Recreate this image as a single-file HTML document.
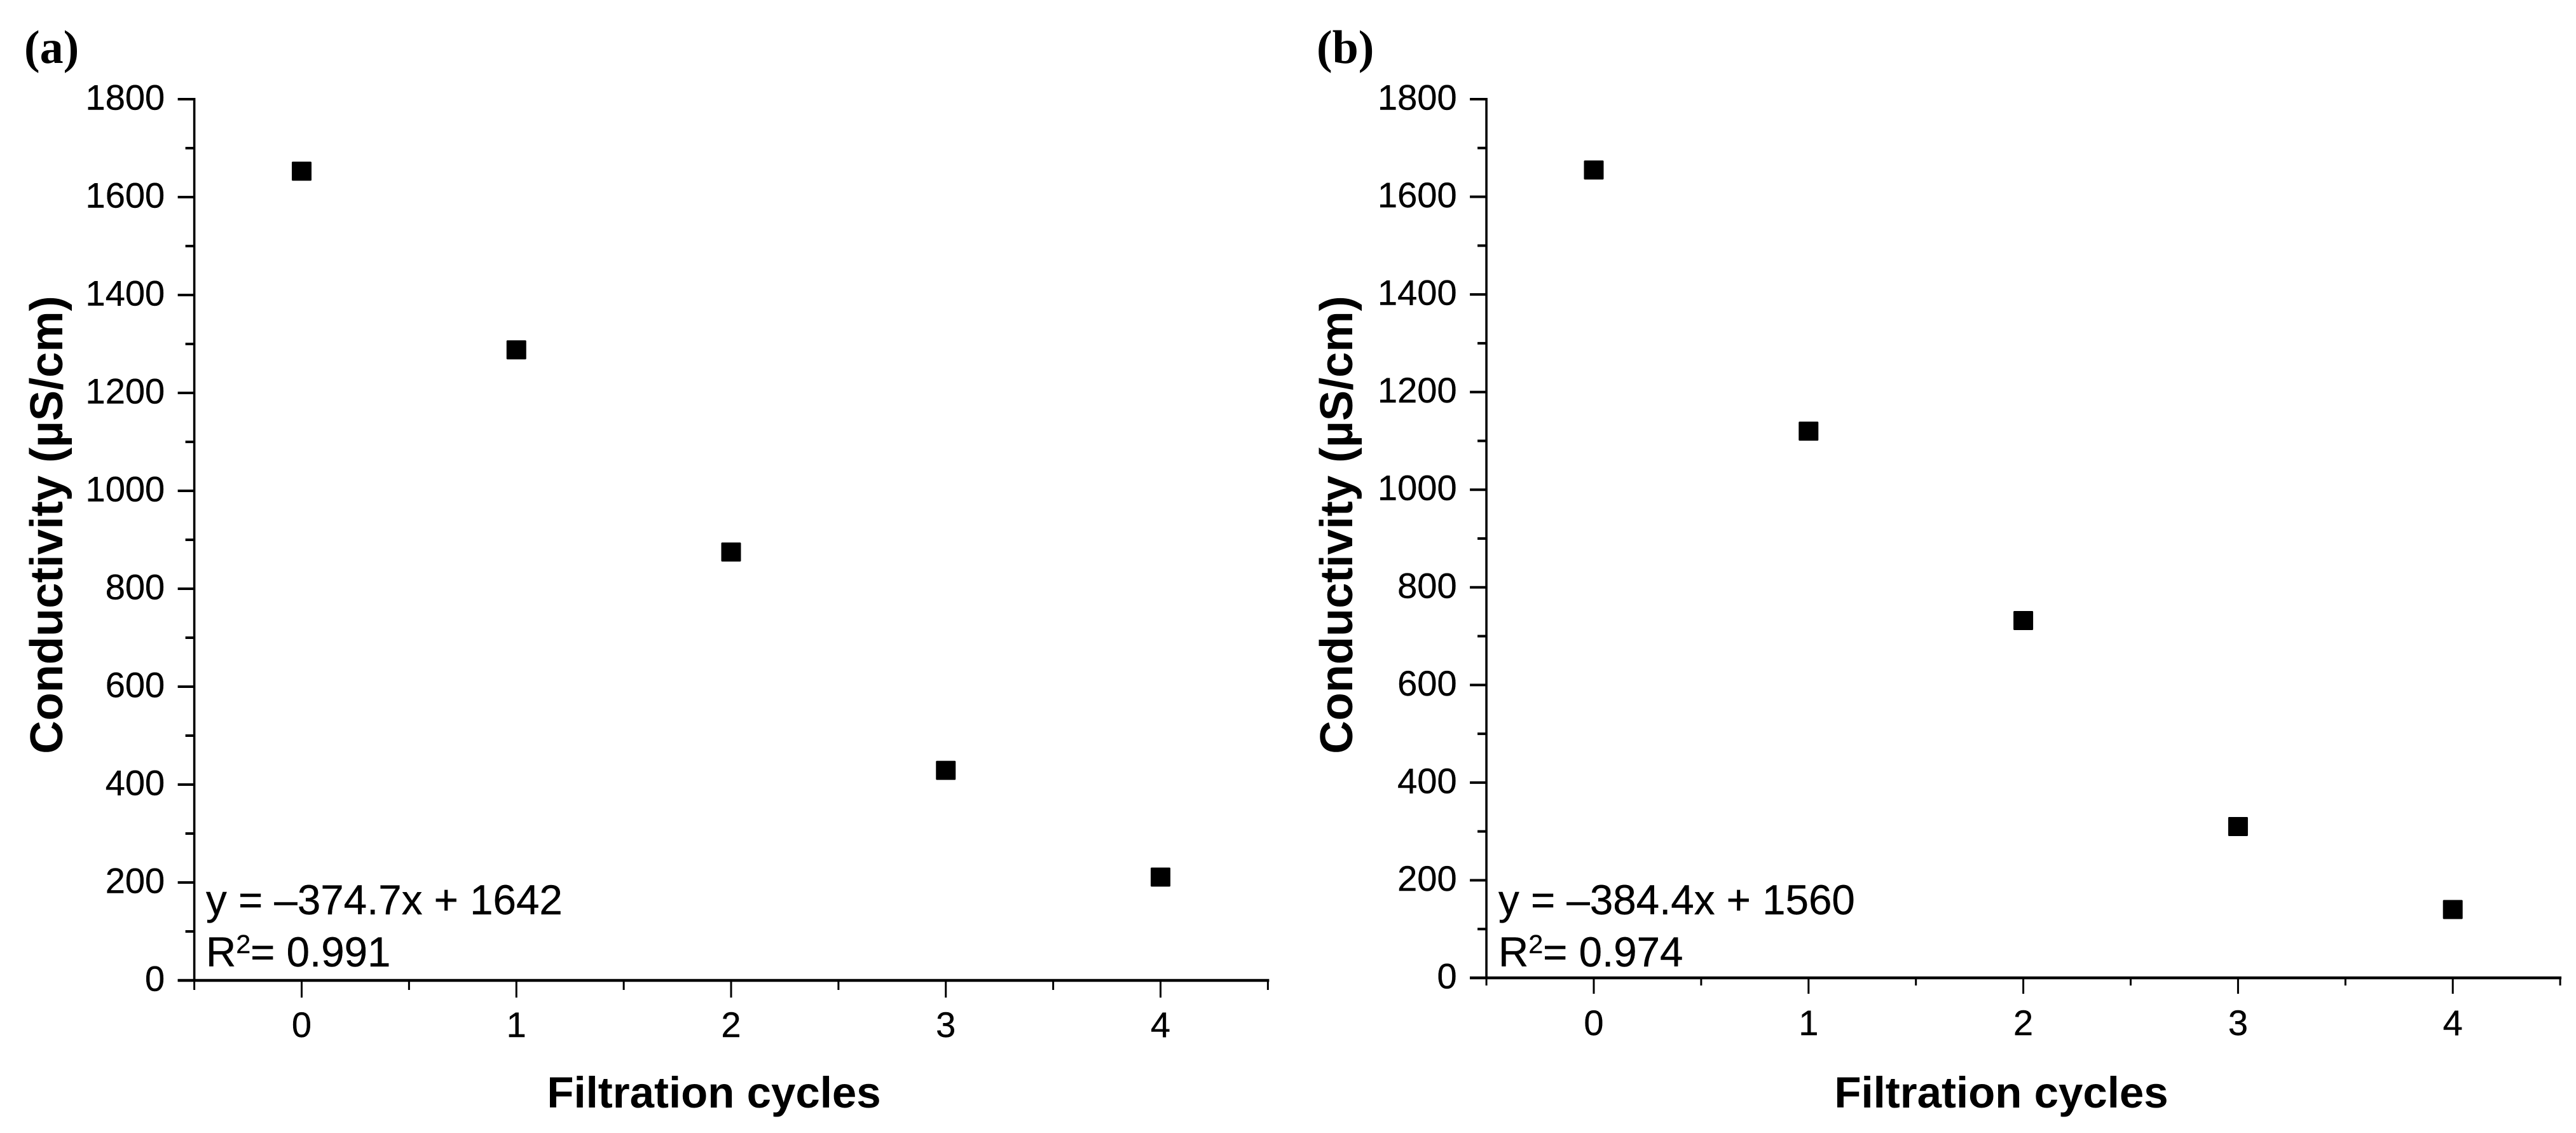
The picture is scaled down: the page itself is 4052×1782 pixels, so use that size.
<!DOCTYPE html>
<html lang="en">
<head>
<meta charset="utf-8">
<title>Conductivity vs filtration cycles</title>
<style>
  html, body { margin: 0; padding: 0; background: #fff; }
  svg { display: block; }
  text { fill: #000; font-family: "Liberation Sans", Arial, sans-serif; }
  .tick { font-size: 56px; stroke: #000; stroke-width: 0.4px; }
  .title { font-weight: bold; }
  .eq { font-size: 65.5px; stroke: #000; stroke-width: 0.4px; }
  .panel-label { font-family: "Liberation Serif", "Times New Roman", serif; font-weight: bold; font-size: 74px; }
</style>
</head>
<body>
<svg id="figure" xmlns="http://www.w3.org/2000/svg" width="4052" height="1782" viewBox="0 0 4052 1782">
  <rect x="0" y="0" width="4052" height="1782" fill="#ffffff"/>

  <g id="panel-a">
    <text class="panel-label" x="38" y="99">(a)</text>
    <text class="title" font-size="72.3" text-anchor="middle" transform="translate(98 825.5) rotate(-90)">Conductivity (µS/cm)</text>
    <text class="title" font-size="69" text-anchor="middle" x="1123" y="1742">Filtration cycles</text>
    <text class="eq" x="324" y="1438">y = –374.7x + 1642</text>
    <text class="eq" x="324" y="1520">R<tspan font-size="41" dy="-21">2</tspan><tspan dy="21">= 0.991</tspan></text>
  </g>

  <g id="panel-b">
    <text class="panel-label" x="2071" y="99">(b)</text>
    <text class="title" font-size="72.3" text-anchor="middle" transform="translate(2127 825.5) rotate(-90)">Conductivity (µS/cm)</text>
    <text class="title" font-size="69" text-anchor="middle" x="3148" y="1742">Filtration cycles</text>
    <text class="eq" x="2357" y="1438">y = –384.4x + 1560</text>
    <text class="eq" x="2357" y="1520">R<tspan font-size="41" dy="-21">2</tspan><tspan dy="21">= 0.974</tspan></text>
  </g>
</svg>

<script>
const cycles = [0, 1, 2, 3, 4];
const conductivityA = [1653, 1288, 875, 429, 211];
const conductivityB = [1655, 1120, 732, 310, 140];
const yTickValues = [0, 200, 400, 600, 800, 1000, 1200, 1400, 1600, 1800];
const yTickLabels = ["0", "200", "400", "600", "800", "1000", "1200", "1400", "1600", "1800"];
const yMinorValues = [100, 300, 500, 700, 900, 1100, 1300, 1500, 1700];
const xTickValues = [0, 1, 2, 3, 4];
const xTickLabels = ["0", "1", "2", "3", "4"];
const xMinorValues = [-0.5, 0.5, 1.5, 2.5, 3.5, 4.5];

const NS = "http://www.w3.org/2000/svg";

function makeLine(parent, x1, y1, x2, y2, width) {
  const l = document.createElementNS(NS, "line");
  l.setAttribute("x1", x1);
  l.setAttribute("y1", y1);
  l.setAttribute("x2", x2);
  l.setAttribute("y2", y2);
  l.setAttribute("stroke", "#000");
  l.setAttribute("stroke-width", width);
  parent.appendChild(l);
  return l;
}

function drawPanel(groupId, values, frame) {
  const g = document.getElementById(groupId);
  const xScale = function (v) { return frame.xZero + frame.xUnit * v; };
  const yScale = function (v) { return frame.yZero - (frame.yZero - frame.yTop) * v / 1800; };
  const axisX = xScale(-0.5);
  const axisEnd = xScale(4.5);
  const axisY = yScale(0);

  const yAxis = makeLine(g, axisX, yScale(1800) - 2, axisX, axisY, 3.6);
  
  

  const xAxis = makeLine(g, axisX - 26, axisY, axisEnd + 2, axisY, 4.5);
  
  

  yTickValues.forEach(function (v, i) {
    const y = yScale(v);
    const t = makeLine(g, axisX - 26, y, axisX, y, 4);
    
    
    const label = document.createElementNS(NS, "text");
    label.setAttribute("class", "tick");
    label.setAttribute("text-anchor", "end");
    label.setAttribute("x", axisX - 46.5);
    label.setAttribute("y", y + 16.5);
    label.textContent = yTickLabels[i];
    
    
    g.appendChild(label);
  });

  yMinorValues.forEach(function (v) {
    const y = yScale(v);
    const t = makeLine(g, axisX - 14, y, axisX, y, 4);
    
    
  });

  xTickValues.forEach(function (v, i) {
    const x = xScale(v);
    const t = makeLine(g, x, axisY, x, axisY + frame.majorLen, 3);
    
    
    const label = document.createElementNS(NS, "text");
    label.setAttribute("class", "tick");
    label.setAttribute("text-anchor", "middle");
    label.setAttribute("x", x);
    label.setAttribute("y", axisY + frame.xLabelGap);
    label.textContent = xTickLabels[i];
    
    
    g.appendChild(label);
  });

  xMinorValues.forEach(function (v) {
    const x = xScale(v);
    const t = makeLine(g, x, axisY, x, axisY + frame.minorLen, 3);
    
    
  });

  cycles.forEach(function (c, i) {
    const m = document.createElementNS(NS, "rect");
    m.setAttribute("x", xScale(c) - 15.5);
    m.setAttribute("y", yScale(values[i]) - 15);
    m.setAttribute("width", 31);
    m.setAttribute("height", 30);
    m.setAttribute("rx", 1.5);
    m.setAttribute("fill", "#000");
    
    
    g.appendChild(m);
  });
}

drawPanel("panel-a", conductivityA, { xZero: 474.5, xUnit: 337.75, yZero: 1542, yTop: 156, majorLen: 27, minorLen: 15, xLabelGap: 89 });
drawPanel("panel-b", conductivityB, { xZero: 2507, xUnit: 337.8, yZero: 1538, yTop: 156, majorLen: 25, minorLen: 12, xLabelGap: 90 });
</script>
</body>
</html>
